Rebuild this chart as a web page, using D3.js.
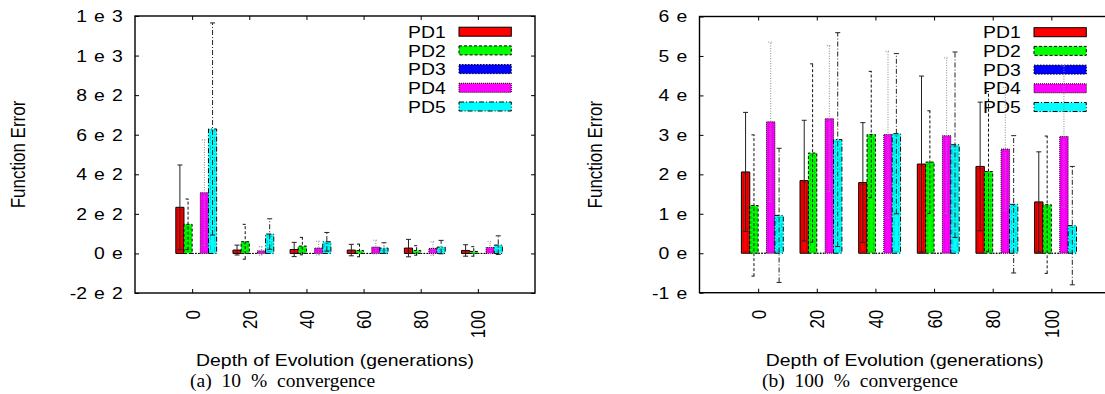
<!DOCTYPE html>
<html>
<head>
<meta charset="utf-8">
<script src="https://cdn.jsdelivr.net/npm/d3@7"></script>
<style>
  body { margin: 0; background: #fff; }
  svg { display: block; }
</style>
</head>
<body>
<svg id="fig" width="1105" height="394"></svg>
<script>
var generations = [0, 20, 40, 60, 80, 100];
var seriesNames = ["PD1", "PD2", "PD3", "PD4", "PD5"];
var seriesColors = ["#ff0000", "#00ff00", "#0000ff", "#ff00ff", "#00ffff"];

// (a) 10 % convergence : mean and +/- error per series
var pd1_a = [233, 17, 20, 17, 27, 15];
var pd1_a_err = [214, 25, 36, 29, 44, 29];
var pd2_a = [147, 59, 37, 15, 15, 10];
var pd2_a_err = [128, 88, 44, 32, 24, 24];
var pd3_a = [0, 0, 0, 0, 0, 0];
var pd3_a_err = [0, 0, 0, 0, 0, 0];
var pd4_a = [307, 13, 27, 32, 25, 30];
var pd4_a_err = [267, 21, 35, 35, 34, 31];
var pd5_a = [629, 98, 59, 27, 32, 42];
var pd5_a_err = [536, 77, 47, 27, 34, 47];
var yTicks_a = [-200, 0, 200, 400, 600, 800, 1000, 1200];
var yTickLabels_a = ["-2 e 2", "0 e", "2 e 2", "4 e 2", "6 e 2", "8 e 2", "1 e 3", "1 e 3"];

// (b) 100 % convergence
var pd1_b = [2.06, 1.84, 1.79, 2.26, 2.20, 1.30];
var pd1_b_err = [1.51, 1.53, 1.52, 2.23, 1.63, 1.27];
var pd2_b = [1.21, 2.54, 3.01, 2.31, 2.07, 1.23];
var pd2_b_err = [1.79, 2.26, 1.60, 1.30, 2.03, 1.74];
var pd3_b = [0, 0, 0, 0, 0, 0];
var pd3_b_err = [0, 0, 0, 0, 0, 0];
var pd4_b = [3.33, 3.41, 3.01, 2.98, 2.64, 2.96];
var pd4_b_err = [2.02, 1.85, 2.11, 1.97, 1.56, 1.79];
var pd5_b = [0.96, 2.88, 3.03, 2.75, 1.24, 0.70];
var pd5_b_err = [1.70, 2.71, 2.03, 2.35, 1.74, 1.50];
var yTicks_b = [-1, 0, 1, 2, 3, 4, 5, 6];
var yTickLabels_b = ["-1 e", "0 e", "1 e", "2 e", "3 e", "4 e", "5 e", "6 e"];

var SANS = "'Liberation Sans', Arial, Helvetica, sans-serif";
var SERIF = "'Liberation Serif', 'Times New Roman', serif";
var FS = 17;
var SX = 1.14;   // gnuplot text looks a bit wider than Helvetica

var barDash = [null, "3,2", "1.5,1.5", "1,1", "5,2,1,2"];
var errDash = [null, "3,2", "1.5,1.5", "1,1.5", "5,2,1,2"];
var errColor = ["#222", "#111", "#111", "#888", "#222"];

var svg = d3.select("#fig");

function drawPanel(p) {
  var g = svg.append("g");
  var x = d3.scaleLinear().domain([-1, 6]).range([p.left, p.right]);
  var y = d3.scaleLinear().domain([p.yTicks[0], p.yTicks[p.yTicks.length - 1]]).range([p.bottom, p.top]);
  var w = (x(1) - x(0)) / 7;

  // legend (drawn first, bars go over it)
  var legend = g.append("g");
  seriesNames.forEach(function(name, j) {
    var cy = p.top + 15.7 + j * 18.7;
    legend.append("text")
      .attr("transform", "translate(" + (p.right - 89.3) + "," + cy + ") scale(" + SX + ",1)")
      .attr("dy", "0.36em")
      .attr("text-anchor", "end")
      .style("font-family", SANS).style("font-size", FS + "px")
      .text(name);
    legend.append("rect")
      .attr("x", p.right - 76).attr("y", cy - 4.5)
      .attr("width", 52.3).attr("height", 9)
      .attr("fill", seriesColors[j])
      .attr("stroke", "#000").attr("stroke-width", 1)
      .attr("stroke-dasharray", barDash[j]);
  });

  // bars
  p.means.forEach(function(vals, j) {
    var errs = p.errs[j];
    var sg = g.append("g");
    var bx = function(i) { return x(i) + (j - 2) * w; };

    sg.selectAll(".bar").data(vals).enter().append("path")
      .attr("class", "bar")
      .attr("d", function(d, i) {
        return "M" + bx(i) + "," + y(0) + "H" + (bx(i) + w) + "V" + y(d) + "H" + bx(i) + "Z";
      })
      .attr("fill", seriesColors[j])
      .attr("stroke", "#000").attr("stroke-width", 1)
      .attr("stroke-dasharray", barDash[j]);

    // inner pattern line of the gnuplot bars
    sg.selectAll(".inner").data(vals).enter()
      .append("rect")
      .filter(function(d) { return y(0) - y(d) > 5; })
      .attr("class", "inner")
      .attr("x", function(d) { return bx(vals.indexOf(d)) + 2; })
      .attr("y", function(d) { return y(d) + 2; })
      .attr("width", w - 4)
      .attr("height", function(d) { return y(0) - y(d) - 4; })
      .attr("fill", "none")
      .attr("stroke", "#000").attr("stroke-opacity", 0.3).attr("stroke-width", 0.7)
      .attr("stroke-dasharray", barDash[j]);

    // error bars
    var eb = sg.selectAll(".err").data(vals).enter().append("g")
      .attr("class", "err")
      .filter(function(d, i) { return errs[i] > 0; })
      .attr("stroke", errColor[j]).attr("stroke-width", 1)
      .attr("stroke-dasharray", errDash[j]);
    eb.append("line")
      .attr("x1", function(d, i) { return bx(i) + w / 2; })
      .attr("x2", function(d, i) { return bx(i) + w / 2; })
      .attr("y1", function(d, i) { return y(d - errs[i]); })
      .attr("y2", function(d, i) { return y(d + errs[i]); });
    eb.append("line")
      .attr("stroke-dasharray", null)
      .attr("x1", function(d, i) { return bx(i) + w / 2 - 2.5; })
      .attr("x2", function(d, i) { return bx(i) + w / 2 + 2.5; })
      .attr("y1", function(d, i) { return y(d + errs[i]); })
      .attr("y2", function(d, i) { return y(d + errs[i]); });
    eb.append("line")
      .attr("stroke-dasharray", null)
      .attr("x1", function(d, i) { return bx(i) + w / 2 - 2.5; })
      .attr("x2", function(d, i) { return bx(i) + w / 2 + 2.5; })
      .attr("y1", function(d, i) { return y(d - errs[i]); })
      .attr("y2", function(d, i) { return y(d - errs[i]); });
  });

  // axes, all ticks pointing inwards
  var catTicks = generations.map(function(d, i) { return i; });

  g.append("g").attr("transform", "translate(" + p.left + ",0)")
    .call(d3.axisLeft(y).tickValues(p.yTicks).tickSize(-4).tickPadding(10.8)
      .tickFormat(function(d, i) { return p.yTickLabels[i]; }))
    .call(styleAxis)
    .selectAll("text")
      .attr("transform", "scale(" + SX + ",1)")
      .style("word-spacing", "1.5px");

  g.append("g").attr("transform", "translate(" + p.right + ",0)")
    .call(d3.axisRight(y).tickValues(p.yTicks).tickSize(-4).tickFormat(""))
    .call(styleAxis);

  g.append("g").attr("transform", "translate(0," + p.top + ")")
    .call(d3.axisTop(x).tickValues(catTicks).tickSize(-4).tickFormat(""))
    .call(styleAxis);

  g.append("g").attr("transform", "translate(0," + p.bottom + ")")
    .call(d3.axisBottom(x).tickValues(catTicks).tickSize(-4)
      .tickFormat(function(i) { return generations[i]; }))
    .call(styleAxis)
    .selectAll("text")
      .attr("x", -17).attr("y", 0).attr("dy", "0.36em")
      .attr("transform", "scale(" + SX + ",1) rotate(-90)")
      .style("text-anchor", "end");

  // frame
  g.append("rect")
    .attr("x", p.left).attr("y", p.top)
    .attr("width", p.right - p.left).attr("height", p.bottom - p.top)
    .attr("fill", "none").attr("stroke", "#000").attr("stroke-width", 1.4);

  // axis titles
  g.append("text")
    .attr("transform", "translate(" + p.ylabelX + "," + ((p.top + p.bottom) / 2) + ") scale(" + SX + ",1) rotate(-90)")
    .attr("dy", "0.36em")
    .attr("text-anchor", "middle")
    .style("font-family", SANS).style("font-size", FS + "px")
    .text("Function Error");

  g.append("text")
    .attr("transform", "translate(" + ((p.left + p.right) / 2) + ",365.5) scale(" + SX + ",1)")
    .attr("text-anchor", "middle")
    .style("font-family", SANS).style("font-size", FS + "px")
    .text("Depth of Evolution (generations)");

  g.append("text")
    .attr("x", p.captionX).attr("y", 386.5)
    .style("font-family", SERIF).style("font-size", "19.5px")
    .style("word-spacing", "5px")
    .text(p.caption);
}

function styleAxis(a) {
  a.select(".domain").remove();
  a.attr("font-family", SANS).attr("font-size", FS);
  a.selectAll(".tick line").attr("stroke", "#000").attr("stroke-width", 1);
  a.selectAll(".tick text").attr("fill", "#000");
}

drawPanel({
  left: 135, right: 535, top: 16, bottom: 293,
  yTicks: yTicks_a, yTickLabels: yTickLabels_a,
  means: [pd1_a, pd2_a, pd3_a, pd4_a, pd5_a],
  errs: [pd1_a_err, pd2_a_err, pd3_a_err, pd4_a_err, pd5_a_err],
  ylabelX: 18, caption: "(a) 10 % convergence", captionX: 190
});

drawPanel({
  left: 699.5, right: 1110, top: 16.5, bottom: 292.7,
  yTicks: yTicks_b, yTickLabels: yTickLabels_b,
  means: [pd1_b, pd2_b, pd3_b, pd4_b, pd5_b],
  errs: [pd1_b_err, pd2_b_err, pd3_b_err, pd4_b_err, pd5_b_err],
  ylabelX: 595, caption: "(b) 100 % convergence", captionX: 762
});
</script>
</body>
</html>
